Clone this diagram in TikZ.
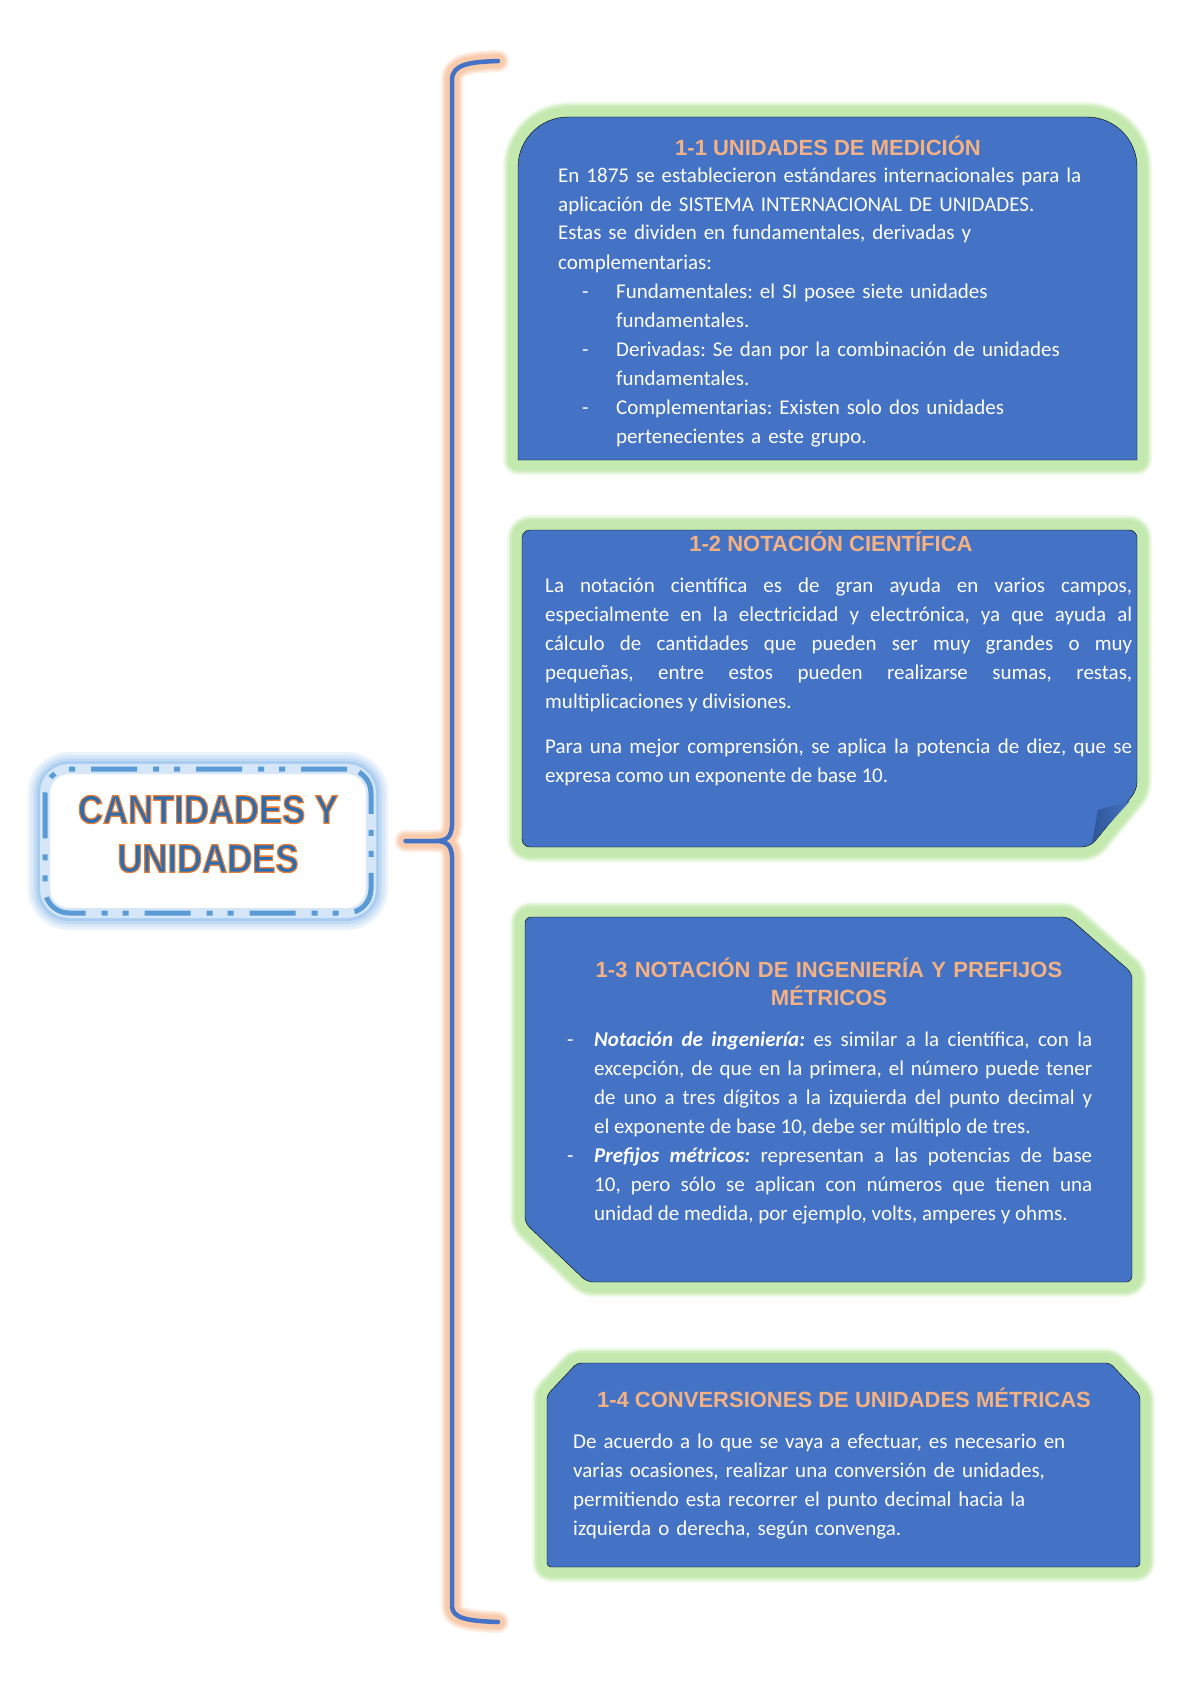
\documentclass[tikz,border=0pt]{standalone}
\usepackage{fontspec}
\usepackage{graphicx}
\setmainfont{Carlito}
\newfontfamily\headfont{Liberation Sans}
\newfontfamily\titlefont{Liberation Sans Bold}[FakeBold=3.2]
\setlength{\parskip}{0pt}
\frenchspacing

\definecolor{azulcaja}{HTML}{4472C4}
\definecolor{azuloscuro}{HTML}{2F5597}
\definecolor{verdebrillo}{HTML}{C3E9AE}
\definecolor{naranjaclaro}{HTML}{F4B183}
\definecolor{naranjabrillo}{HTML}{F8CBAD}
\definecolor{azulborde}{HTML}{5B9BD5}
\definecolor{celeste}{HTML}{A9CDF0}
\definecolor{azultitulo}{HTML}{2B6CB0}

\newcommand\guion[3]{\noindent\hangindent=\dimexpr#1+#2\relax\hangafter=1\hspace*{#1}\makebox[#2][l]{-}#3\par}
\newcommand\contorno[1]{\special{pdf:literal direct 0.929 0.490 0.192 RG}\scalebox{1.02}[1.17]{#1}}

\begin{document}
\begin{tikzpicture}[x=1pt, y=-1pt]
        \tikzstyle{caja} = [fill=azulcaja, line join=round,
            preaction={draw=verdebrillo!25, line width=30pt, line join=round},
            preaction={draw=verdebrillo!50, line width=27pt, line join=round},
            preaction={draw=verdebrillo!80, line width=24pt, line join=round},
            preaction={draw=verdebrillo, line width=20pt, line join=round}]
        \tikzstyle{marco} = [rectangle, rounded corners=24pt, minimum width=326pt, minimum height=144pt,
            preaction={draw=celeste!25, solid, line width=34pt},
            preaction={draw=celeste!45, solid, line width=28pt},
            preaction={draw=celeste!70, solid, line width=22pt},
            preaction={draw=celeste, solid, line width=16pt},
            preaction={fill=white},
            preaction={draw=celeste!50, solid, line width=10pt},
            draw=azulborde, line width=5pt, dash pattern=on 46pt off 16pt on 6pt off 15pt on 6pt off 16pt]
        \tikzstyle{llave} = [draw=azulcaja, line width=4.5pt, line cap=round,
            preaction={draw=naranjabrillo!35, line width=22pt, line cap=round},
            preaction={draw=naranjabrillo!70, line width=18pt, line cap=round},
            preaction={draw=naranjabrillo, line width=14pt, line cap=round}]
        \tikzstyle{encabezado} = [text=naranjaclaro, inner sep=0pt, anchor=base, font=\headfont\bfseries\fontsize{22}{28}\selectfont]
        \tikzstyle{texto} = [text=white, inner sep=0pt, anchor=base west, font=\fontsize{21}{29}\selectfont]
        \tikzstyle{rotulo} = [text=azultitulo, inner sep=0pt, align=center, font=\titlefont\fontsize{34}{49}\selectfont]

        \useasboundingbox (0,0) rectangle (1190,1683);

        \node (titulo) [marco] at (208,841) {};
        \node (nombre) [rotulo] at ([yshift=7pt]titulo.center) {\contorno{CANTIDADES Y}\\\contorno{UNIDADES}};

        \coordinate (punta) at ([xshift=32pt]titulo.east);
        \coordinate (arriba) at (498,61);
        \coordinate (abajo) at (498,1622);
        \draw [llave] (arriba) .. controls (470,62) and (452,64) .. (452,80) -- (452,826)
            .. controls (451,836) and (448,841) .. (435,841) -- (punta)
            (punta) -- (435,841) .. controls (448,841) and (451,846) .. (452,856) -- (452,1606)
            .. controls (452,1619) and (470,1621) .. (abajo);

        \draw [caja] (518,460) [rounded corners=50pt] -- (518,117) -- (1137,117) [sharp corners] -- (1137,460) -- cycle;
        \draw [caja, rounded corners=8pt] (522,847) -- (522,530) -- (1137,530) -- (1137,790) -- (1090,847) -- cycle;
        \shade [left color=azuloscuro, right color=azulcaja] (1098,810) -- (1130,801) -- (1092,843) -- cycle;
        \draw [caja, rounded corners=6pt] (525,1223) -- (525,917) -- (1068,917) -- (1132,973) -- (1132,1282) -- (587,1282) -- cycle;
        \draw [caja, rounded corners=4pt] (547,1567) -- (547,1395) -- (577,1363) -- (1110,1363) -- (1140,1395) -- (1140,1567) -- cycle;

        \node (h1) [encabezado] at (828,155) {1-1 UNIDADES DE MEDICIÓN};
        \node (t1) [texto, text width=575pt] at (558,182) {\raggedright
            En 1875 se establecieron estándares internacionales para la\newline
            aplicación de SISTEMA INTERNACIONAL DE UNIDADES.\newline
            Estas se dividen en fundamentales, derivadas y\newline
            complementarias:\par
            \guion{24pt}{34pt}{Fundamentales: el SI posee siete unidades\newline fundamentales.}
            \guion{24pt}{34pt}{Derivadas: Se dan por la combinación de unidades\newline fundamentales.}
            \guion{24pt}{34pt}{Complementarias: Existen solo dos unidades\newline pertenecientes a este grupo.}};

        \node (h2) [encabezado] at (831,551) {1-2 NOTACIÓN CIENTÍFICA};
        \node (t2) [texto, text width=587pt, align=justify] at (545,592) {%
            La notación científica es de gran ayuda en varios campos,\linebreak
            especialmente en la electricidad y electrónica, ya que ayuda al\linebreak
            cálculo de cantidades que pueden ser muy grandes o muy\linebreak
            pequeñas, entre estos pueden realizarse sumas, restas,\linebreak
            multiplicaciones y divisiones.\par\vspace{16pt}
            Para una mejor comprensión, se aplica la potencia de diez, que se\linebreak
            expresa como un exponente de base 10.};

        \node (h3) [encabezado, text width=560pt, align=center] at (829,977) {1-3 NOTACIÓN DE INGENIERÍA Y PREFIJOS\\MÉTRICOS};
        \node (t3) [texto, text width=525pt, align=justify] at (567,1046) {%
            \guion{0pt}{27pt}{\textbf{\textit{Notación de ingeniería:}} es similar a la científica, con la\linebreak
            excepción, de que en la primera, el número puede tener\linebreak
            de uno a tres dígitos a la izquierda del punto decimal y\linebreak
            el exponente de base 10, debe ser múltiplo de tres.}
            \guion{0pt}{27pt}{\textbf{\textit{Prefijos métricos:}} representan a las potencias de base\linebreak
            10, pero sólo se aplican con números que tienen una\linebreak
            unidad de medida, por ejemplo, volts, amperes y ohms.}};

        \node (h4) [encabezado] at (844,1407) {1-4 CONVERSIONES DE UNIDADES MÉTRICAS};
        \node (t4) [texto, text width=560pt] at (573,1448) {\raggedright
            De acuerdo a lo que se vaya a efectuar, es necesario en\newline
            varias ocasiones, realizar una conversión de unidades,\newline
            permitiendo esta recorrer el punto decimal hacia la\newline
            izquierda o derecha, según convenga.};
    \end{tikzpicture}
\end{document}
